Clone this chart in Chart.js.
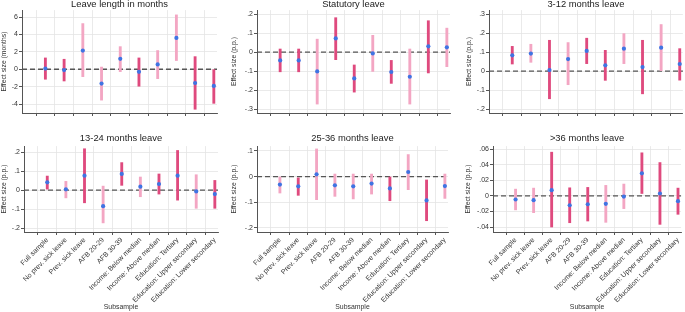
<!DOCTYPE html>
<html><head><meta charset="utf-8">
<script src="https://cdn.jsdelivr.net/npm/chart.js@4/dist/chart.umd.min.js"></script>
<style>
html,body{margin:0;padding:0;background:#fff;}
body{width:685px;height:312px;overflow:hidden;position:relative;}
canvas{position:absolute;}
</style>
</head><body>
<script>
// ---------- data ----------
const categories = ['Full sample','No prev. sick leave','Prev. sick leave','AFB 20-29','AFB 30-39',
  'Income: Below median','Income: Above median','Education: Tertiary','Education: Upper secondary','Education: Lower secondary'];

const lengthEst = [0.08,-0.1,2.15,-1.65,1.2,-0.3,0.55,3.6,-1.58,-1.92];
const lengthLo  = [-1.15,-1.35,-0.85,-3.55,-0.27,-1.95,-1.08,1.0,-4.6,-3.92];
const lengthHi  = [1.3,1.15,5.25,0.25,2.6,1.3,2.15,6.25,1.45,0.0];
const lengthDark= [1,1,0,0,0,1,0,0,1,1];
const lengthTicks = [-4,-2,0,2,4,6];

const statEst = [-0.044,-0.044,-0.102,0.072,-0.139,-0.007,-0.105,-0.130,0.030,0.025];
const statLo  = [-0.104,-0.104,-0.274,-0.040,-0.211,-0.102,-0.165,-0.274,-0.110,-0.077];
const statHi  = [0.016,0.016,0.068,0.181,-0.068,0.088,-0.044,0.016,0.165,0.126];
const statDark= [1,1,0,1,1,0,1,0,1,0];
const statTicks = [-0.3,-0.2,-0.1,0,0.1,0.2];

const m3Est = [0.083,0.092,0.005,0.063,0.106,0.030,0.118,0.021,0.123,0.037];
const m3Lo  = [0.037,0.046,-0.146,-0.072,0.039,-0.049,0.039,-0.120,0.002,-0.048];
const m3Hi  = [0.130,0.141,0.162,0.150,0.173,0.109,0.197,0.162,0.245,0.118];
const m3Dark= [1,0,1,0,1,1,0,1,0,1];
const m3Ticks = [-0.2,-0.1,0,0.1,0.2,0.3];

const m13Est = [0.041,0.004,0.076,-0.085,0.085,0.018,0.032,0.076,-0.007,-0.021];
const m13Lo  = [0.005,-0.041,-0.067,-0.173,0.025,-0.035,-0.021,-0.053,-0.096,-0.096];
const m13Hi  = [0.074,0.046,0.218,0.021,0.145,0.069,0.085,0.209,0.081,0.051];
const m13Dark= [1,0,1,0,1,0,1,1,0,1];
const m13Ticks = [-0.2,-0.1,0,0.1,0.2];

const m25Est = [-0.031,-0.038,0.009,-0.034,-0.038,-0.027,-0.046,0.018,-0.093,-0.037];
const m25Lo  = [-0.064,-0.073,-0.090,-0.077,-0.087,-0.068,-0.094,-0.051,-0.172,-0.085];
const m25Hi  = [0.0,-0.005,0.108,0.010,0.010,0.010,0.0,0.086,-0.013,0.010];
const m25Dark= [0,1,0,0,0,0,1,0,1,0];
const m25Ticks = [-0.2,-0.1,0,0.1];

const m36Est = [-0.0047,-0.0056,0.0073,-0.0121,-0.0108,-0.0103,-0.0009,0.0289,0.0030,-0.0069];
const m36Lo  = [-0.0180,-0.0216,-0.0400,-0.0345,-0.0323,-0.0340,-0.0164,0.0030,-0.0366,-0.0237];
const m36Hi  = [0.0086,0.0099,0.0560,0.0103,0.0108,0.0134,0.0151,0.0552,0.0427,0.0099];
const m36Dark= [0,0,1,1,1,0,0,1,1,1];
const m36Ticks = [-0.04,-0.02,0,0.02,0.04,0.06];

// ---------- styling ----------
const DARK = '#df4a7e', LIGHT = '#f3a6c3', DOT = '#3f74e3';
const FONT = 'Liberation Sans, Arial, Helvetica, sans-serif';
Chart.defaults.font.family = FONT;
Chart.defaults.color = '#333';

function fmt(v){
  let s = String(Number(v.toPrecision(6)));
  return s.replace(/^(-?)0\./,'$1.');
}

const zeroLine = {
  id:'zeroLine',
  beforeDatasetsDraw(chart){
    const {ctx, chartArea:a, scales:{y}} = chart;
    const py = y.getPixelForValue(0);
    ctx.save();
    ctx.strokeStyle = '#555'; ctx.lineWidth = 1.3; ctx.setLineDash([5,3]);
    ctx.beginPath(); ctx.moveTo(a.left, py); ctx.lineTo(a.right, py); ctx.stroke();
    ctx.restore();
  }
};

const panels = [
  {title:'Leave length in months', ytitle:'Effect size (months)', est:lengthEst, lo:lengthLo, hi:lengthHi, dark:lengthDark, ticks:lengthTicks, ymin:-5.03, ymax:6.8,
   cl:0, ct:0, cw:225, ch:125, pl:22, pr:217, pt:10, pb:113, bottom:false},
  {title:'Statutory leave', ytitle:'Effect size (p.p.)', est:statEst, lo:statLo, hi:statHi, dark:statDark, ticks:statTicks, ymin:-0.321, ymax:0.221,
   cl:230, ct:0, cw:226, ch:125, pl:257, pr:450, pt:10, pb:113, bottom:false},
  {title:'3-12 months leave', ytitle:'Effect size (p.p.)', est:m3Est, lo:m3Lo, hi:m3Hi, dark:m3Dark, ticks:m3Ticks, ymin:-0.221, ymax:0.321,
   cl:465, ct:0, cw:220, ch:125, pl:489, pr:683, pt:10, pb:113, bottom:false},
  {title:'13-24 months leave', ytitle:'Effect size (p.p.)', est:m13Est, lo:m13Lo, hi:m13Hi, dark:m13Dark, ticks:m13Ticks, ymin:-0.221, ymax:0.232,
   cl:0, ct:125, cw:226, ch:187, pl:24, pr:218, pt:146, pb:232, bottom:true},
  {title:'25-36 months leave', ytitle:'Effect size (p.p.)', est:m25Est, lo:m25Lo, hi:m25Hi, dark:m25Dark, ticks:m25Ticks, ymin:-0.216, ymax:0.119,
   cl:230, ct:125, cw:226, ch:187, pl:257, pr:448, pt:146, pb:232, bottom:true},
  {title:'>36 months leave', ytitle:'Effect size (p.p.)', est:m36Est, lo:m36Lo, hi:m36Hi, dark:m36Dark, ticks:m36Ticks, ymin:-0.0464, ymax:0.0638,
   cl:464, ct:125, cw:221, ch:187, pl:493, pr:683, pt:146, pb:232, bottom:true},
];

const xIdx = categories.map((c,i)=>i+1);

panels.forEach(p=>{
  const cv = document.createElement('canvas');
  cv.width = p.cw; cv.height = p.ch;
  cv.style.left = p.cl+'px'; cv.style.top = p.ct+'px';
  cv.style.width = p.cw+'px'; cv.style.height = p.ch+'px';
  document.body.appendChild(cv);

  const yW = p.pl - p.cl;
  const xH = (p.ct + p.ch) - p.pb;
  const padR = (p.cl + p.cw) - p.pr;
  const titleTotal = p.pt - p.ct;
  const tPadTop = p.bottom ? 8.6 : 0.2;
  const tPadBot = titleTotal - 9.3 - tPadTop;

  new Chart(cv, {
    type:'bar',
    data:{
      datasets:[
        {type:'scatter', order:0, data:xIdx.map((x,i)=>({x:x, y:p.est[i]})),
         pointRadius:2.1, pointHoverRadius:2.1, pointBackgroundColor:DOT, pointBorderWidth:0, pointStyle:'circle'},
        {type:'bar', order:1, data:xIdx.map((x,i)=>({x:x, y:[p.lo[i], p.hi[i]]})),
         backgroundColor:p.dark.map(d=>d?DARK:LIGHT), borderWidth:0, barThickness:2.2, borderSkipped:false}
      ]
    },
    options:{
      responsive:false, animation:false, devicePixelRatio:1,
      layout:{padding:{left:0, top:0, right:padR, bottom:0}},
      plugins:{
        legend:{display:false}, tooltip:{enabled:false},
        title:{display:true, text:p.title, fullSize:false, color:'#222',
          font:{size:9.4, lineHeight:1, weight:'normal'}, padding:{top:tPadTop, bottom:tPadBot}}
      },
      scales:{
        x:{type:'linear', min:-0.25, max:10.17, offset:false,
          afterBuildTicks:s=>{ s.ticks = xIdx.map(v=>({value:v})); },
          afterFit:s=>{ s.height = xH; },
          grid:{color:'#e4e4e4', borderDash:[3,3], lineWidth:0.8, drawTicks:true, tickLength:3, tickColor:'#555', tickBorderDash:[], tickWidth:1},
          border:{display:true, color:'#555', width:1},
          ticks:{display:p.bottom, autoSkip:false, minRotation:45, maxRotation:45, padding:1,
            font:{size:7}, color:'#333', callback:v=>categories[v-1]},
          title:{display:p.bottom, text:'Subsample', color:'#333', font:{size:6.9, lineHeight:1.2}, padding:{top:0, bottom:0.5}}
        },
        y:{type:'linear', min:p.ymin, max:p.ymax,
          afterBuildTicks:s=>{ s.ticks = p.ticks.map(v=>({value:v})); },
          afterFit:s=>{ s.width = yW; },
          grid:{color:'#e4e4e4', borderDash:[3,3], lineWidth:0.8, drawTicks:true, tickLength:3, tickColor:'#555', tickBorderDash:[], tickWidth:1},
          border:{display:true, color:'#555', width:1},
          ticks:{padding:1, font:{size:7}, color:'#333', callback:v=>fmt(v)},
          title:{display:true, text:p.ytitle, color:'#333', font:{size:6.8, lineHeight:1.2}, padding:{top:0.4, bottom:0}}
        }
      }
    },
    plugins:[zeroLine]
  });
});
</script>
</body></html>
